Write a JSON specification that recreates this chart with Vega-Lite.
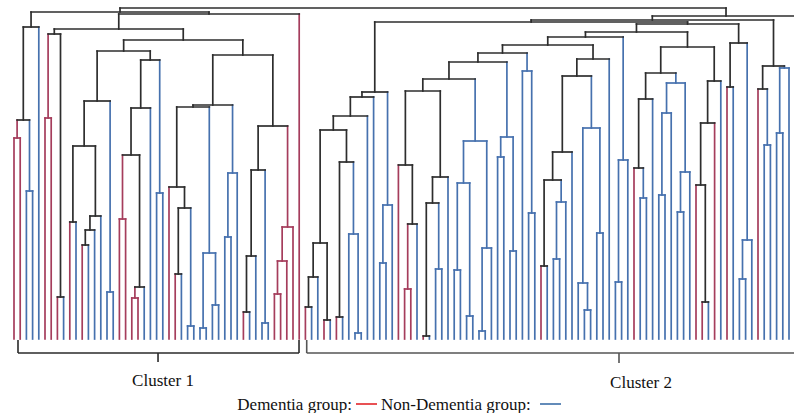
{
"$schema": "https://vega.github.io/schema/vega-lite/v6.json",
"width": 794, "height": 413,
"autosize": {"type": "fit", "contains": "padding"},
"padding": 0,
"background": "white",
"config": {"view": {"stroke": null}},
"datasets": {
"v": [
{"x":0,"y":1,"y2":202,"c":"R"},{"x":1,"y":1,"y2":202,"c":"R"},
{"x":2,"y":1,"y2":149,"c":"B"},{"x":3,"y":1,"y2":149,"c":"B"},
{"x":0.5,"y":202,"y2":220,"c":"R"},{"x":2.5,"y":149,"y2":220,"c":"B"},
{"x":1.5,"y":220,"y2":313,"c":"K"},{"x":4,"y":1,"y2":313,"c":"B"},
{"x":5,"y":1,"y2":222,"c":"R"},{"x":6,"y":1,"y2":222,"c":"R"},
{"x":7,"y":1,"y2":43,"c":"R"},{"x":8,"y":1,"y2":43,"c":"B"},
{"x":5.5,"y":222,"y2":306,"c":"R"},{"x":7.5,"y":43,"y2":306,"c":"K"},
{"x":9,"y":1,"y2":118,"c":"R"},{"x":10,"y":1,"y2":118,"c":"B"},
{"x":11,"y":1,"y2":95,"c":"R"},{"x":12,"y":1,"y2":95,"c":"B"},
{"x":11.5,"y":95,"y2":110,"c":"K"},{"x":13,"y":1,"y2":110,"c":"B"},
{"x":12.25,"y":110,"y2":124,"c":"K"},{"x":14,"y":1,"y2":124,"c":"B"},
{"x":9.5,"y":118,"y2":194,"c":"K"},{"x":13.125,"y":124,"y2":194,"c":"K"},
{"x":15,"y":1,"y2":48,"c":"B"},{"x":16,"y":1,"y2":48,"c":"B"},
{"x":11.3125,"y":194,"y2":239,"c":"K"},{"x":15.5,"y":48,"y2":239,"c":"B"},
{"x":17,"y":1,"y2":121,"c":"R"},{"x":18,"y":1,"y2":121,"c":"R"},
{"x":19,"y":1,"y2":42,"c":"R"},{"x":20,"y":1,"y2":42,"c":"R"},
{"x":19.5,"y":42,"y2":53,"c":"R"},{"x":21,"y":1,"y2":53,"c":"B"},
{"x":17.5,"y":121,"y2":185,"c":"R"},{"x":20.25,"y":53,"y2":185,"c":"K"},
{"x":18.875,"y":185,"y2":232,"c":"K"},{"x":22,"y":1,"y2":232,"c":"B"},
{"x":23,"y":1,"y2":147,"c":"B"},{"x":24,"y":1,"y2":147,"c":"B"},
{"x":20.4375,"y":232,"y2":280,"c":"K"},{"x":23.5,"y":147,"y2":280,"c":"B"},
{"x":13.40625,"y":239,"y2":289,"c":"K"},{"x":21.96875,"y":280,"y2":289,"c":"K"},
{"x":26,"y":1,"y2":66,"c":"R"},{"x":27,"y":1,"y2":66,"c":"B"},
{"x":28,"y":1,"y2":14,"c":"B"},{"x":29,"y":1,"y2":14,"c":"B"},
{"x":26.5,"y":66,"y2":132,"c":"K"},{"x":28.5,"y":14,"y2":132,"c":"B"},
{"x":25,"y":1,"y2":153,"c":"R"},{"x":27.5,"y":132,"y2":153,"c":"K"},
{"x":30,"y":1,"y2":12,"c":"B"},{"x":31,"y":1,"y2":12,"c":"B"},
{"x":32,"y":1,"y2":35,"c":"B"},{"x":33,"y":1,"y2":35,"c":"B"},
{"x":30.5,"y":12,"y2":87,"c":"B"},{"x":32.5,"y":35,"y2":87,"c":"B"},
{"x":26.25,"y":153,"y2":233,"c":"K"},{"x":31.5,"y":87,"y2":233,"c":"B"},
{"x":34,"y":1,"y2":103,"c":"B"},{"x":35,"y":1,"y2":103,"c":"B"},
{"x":34.5,"y":103,"y2":167,"c":"B"},{"x":36,"y":1,"y2":167,"c":"B"},
{"x":28.875,"y":233,"y2":235,"c":"K"},{"x":35.25,"y":167,"y2":235,"c":"B"},
{"x":37,"y":1,"y2":28,"c":"R"},{"x":38,"y":1,"y2":28,"c":"B"},
{"x":37.5,"y":28,"y2":84,"c":"K"},{"x":39,"y":1,"y2":84,"c":"B"},
{"x":40,"y":1,"y2":17,"c":"B"},{"x":41,"y":1,"y2":17,"c":"B"},
{"x":38.25,"y":84,"y2":170,"c":"K"},{"x":40.5,"y":17,"y2":170,"c":"B"},
{"x":42,"y":1,"y2":46,"c":"R"},{"x":43,"y":1,"y2":46,"c":"R"},
{"x":42.5,"y":46,"y2":79,"c":"R"},{"x":44,"y":1,"y2":79,"c":"R"},
{"x":43.25,"y":79,"y2":113,"c":"R"},{"x":45,"y":1,"y2":113,"c":"R"},
{"x":39.375,"y":170,"y2":214,"c":"K"},{"x":44.125,"y":113,"y2":214,"c":"R"},
{"x":32.0625,"y":235,"y2":285,"c":"K"},{"x":41.75,"y":214,"y2":285,"c":"K"},
{"x":17.6875,"y":289,"y2":300,"c":"K"},{"x":36.90625,"y":285,"y2":300,"c":"K"},
{"x":6.5,"y":306,"y2":311,"c":"K"},{"x":27.296875,"y":300,"y2":311,"c":"K"},
{"x":16.8984375,"y":311,"y2":326,"c":"K"},{"x":46,"y":1,"y2":326,"c":"R"},
{"x":2.75,"y":313,"y2":328,"c":"K"},{"x":31.44921875,"y":326,"y2":328,"c":"K"},
{"x":47,"y":1,"y2":33,"c":"R"},{"x":48,"y":1,"y2":33,"c":"B"},
{"x":47.5,"y":33,"y2":63,"c":"K"},{"x":49,"y":1,"y2":63,"c":"B"},
{"x":50,"y":1,"y2":20,"c":"R"},{"x":51,"y":1,"y2":20,"c":"B"},
{"x":48.25,"y":63,"y2":97,"c":"K"},{"x":50.5,"y":20,"y2":97,"c":"K"},
{"x":52,"y":1,"y2":23,"c":"R"},{"x":53,"y":1,"y2":23,"c":"B"},
{"x":55,"y":1,"y2":7,"c":"B"},{"x":56,"y":1,"y2":7,"c":"B"},
{"x":54,"y":1,"y2":106,"c":"B"},{"x":55.5,"y":7,"y2":106,"c":"B"},
{"x":52.5,"y":23,"y2":178,"c":"K"},{"x":54.75,"y":106,"y2":178,"c":"B"},
{"x":49.375,"y":97,"y2":210,"c":"K"},{"x":53.625,"y":178,"y2":210,"c":"K"},
{"x":51.5,"y":210,"y2":224,"c":"K"},{"x":57,"y":1,"y2":224,"c":"B"},
{"x":54.25,"y":224,"y2":243,"c":"K"},{"x":58,"y":1,"y2":243,"c":"B"},
{"x":59,"y":1,"y2":77,"c":"B"},{"x":60,"y":1,"y2":77,"c":"B"},
{"x":59.5,"y":77,"y2":135,"c":"B"},{"x":61,"y":1,"y2":135,"c":"B"},
{"x":56.125,"y":243,"y2":248,"c":"K"},{"x":60.25,"y":135,"y2":248,"c":"B"},
{"x":63,"y":1,"y2":51,"c":"R"},{"x":64,"y":1,"y2":51,"c":"R"},
{"x":63.5,"y":51,"y2":116,"c":"R"},{"x":65,"y":1,"y2":116,"c":"B"},
{"x":62,"y":1,"y2":175,"c":"R"},{"x":64.25,"y":116,"y2":175,"c":"K"},
{"x":66,"y":1,"y2":4,"c":"R"},{"x":67,"y":1,"y2":4,"c":"B"},
{"x":68,"y":1,"y2":71,"c":"B"},{"x":69,"y":1,"y2":71,"c":"B"},
{"x":66.5,"y":4,"y2":137,"c":"K"},{"x":68.5,"y":71,"y2":137,"c":"B"},
{"x":67.5,"y":137,"y2":163,"c":"K"},{"x":70,"y":1,"y2":163,"c":"B"},
{"x":63.125,"y":175,"y2":249,"c":"K"},{"x":68.75,"y":163,"y2":249,"c":"K"},
{"x":71,"y":1,"y2":70,"c":"B"},{"x":72,"y":1,"y2":70,"c":"B"},
{"x":73,"y":1,"y2":24,"c":"B"},{"x":74,"y":1,"y2":24,"c":"B"},
{"x":71.5,"y":70,"y2":157,"c":"B"},{"x":73.5,"y":24,"y2":157,"c":"B"},
{"x":75,"y":1,"y2":9,"c":"B"},{"x":76,"y":1,"y2":9,"c":"B"},
{"x":75.5,"y":9,"y2":92,"c":"B"},{"x":77,"y":1,"y2":92,"c":"B"},
{"x":72.5,"y":157,"y2":199,"c":"B"},{"x":76.25,"y":92,"y2":199,"c":"B"},
{"x":65.9375,"y":249,"y2":261,"c":"K"},{"x":74.375,"y":199,"y2":261,"c":"B"},
{"x":78,"y":1,"y2":183,"c":"B"},{"x":79,"y":1,"y2":183,"c":"B"},
{"x":80,"y":1,"y2":89,"c":"B"},{"x":81,"y":1,"y2":89,"c":"B"},
{"x":78.5,"y":183,"y2":203,"c":"B"},{"x":80.5,"y":89,"y2":203,"c":"B"},
{"x":70.15625,"y":261,"y2":278,"c":"K"},{"x":79.5,"y":203,"y2":278,"c":"B"},
{"x":83,"y":1,"y2":127,"c":"B"},{"x":84,"y":1,"y2":127,"c":"B"},
{"x":82,"y":1,"y2":269,"c":"B"},{"x":83.5,"y":127,"y2":269,"c":"B"},
{"x":74.828125,"y":278,"y2":287,"c":"K"},{"x":82.75,"y":269,"y2":287,"c":"B"},
{"x":85,"y":1,"y2":74,"c":"R"},{"x":86,"y":1,"y2":74,"c":"B"},
{"x":87,"y":1,"y2":81,"c":"B"},{"x":88,"y":1,"y2":81,"c":"B"},
{"x":87.5,"y":81,"y2":138,"c":"B"},{"x":89,"y":1,"y2":138,"c":"B"},
{"x":85.5,"y":74,"y2":160,"c":"K"},{"x":88.25,"y":138,"y2":160,"c":"B"},
{"x":86.875,"y":160,"y2":188,"c":"K"},{"x":90,"y":1,"y2":188,"c":"B"},
{"x":92,"y":1,"y2":30,"c":"B"},{"x":93,"y":1,"y2":30,"c":"B"},
{"x":91,"y":1,"y2":57,"c":"B"},{"x":92.5,"y":30,"y2":57,"c":"B"},
{"x":94,"y":1,"y2":107,"c":"B"},{"x":95,"y":1,"y2":107,"c":"B"},
{"x":91.75,"y":57,"y2":212,"c":"B"},{"x":94.5,"y":107,"y2":212,"c":"B"},
{"x":88.4375,"y":188,"y2":264,"c":"K"},{"x":93.125,"y":212,"y2":264,"c":"B"},
{"x":90.78125,"y":264,"y2":281,"c":"K"},{"x":96,"y":1,"y2":281,"c":"B"},
{"x":78.7890625,"y":287,"y2":295,"c":"K"},{"x":93.390625,"y":281,"y2":295,"c":"K"},
{"x":97,"y":1,"y2":58,"c":"B"},{"x":98,"y":1,"y2":58,"c":"B"},
{"x":97.5,"y":58,"y2":180,"c":"B"},{"x":99,"y":1,"y2":180,"c":"B"},
{"x":86.08984375,"y":295,"y2":303,"c":"K"},{"x":98.25,"y":180,"y2":303,"c":"B"},
{"x":101,"y":1,"y2":142,"c":"B"},{"x":102,"y":1,"y2":142,"c":"B"},
{"x":100,"y":1,"y2":172,"c":"R"},{"x":101.5,"y":142,"y2":172,"c":"B"},
{"x":100.75,"y":172,"y2":241,"c":"K"},{"x":103,"y":1,"y2":241,"c":"B"},
{"x":104,"y":1,"y2":145,"c":"B"},{"x":105,"y":1,"y2":145,"c":"B"},
{"x":104.5,"y":145,"y2":227,"c":"B"},{"x":106,"y":1,"y2":227,"c":"B"},
{"x":107,"y":1,"y2":128,"c":"B"},{"x":108,"y":1,"y2":128,"c":"B"},
{"x":107.5,"y":128,"y2":168,"c":"B"},{"x":109,"y":1,"y2":168,"c":"B"},
{"x":105.25,"y":227,"y2":257,"c":"B"},{"x":108.25,"y":168,"y2":257,"c":"B"},
{"x":101.875,"y":241,"y2":267,"c":"K"},{"x":106.75,"y":257,"y2":267,"c":"B"},
{"x":111,"y":1,"y2":38,"c":"R"},{"x":112,"y":1,"y2":38,"c":"B"},
{"x":110,"y":1,"y2":155,"c":"R"},{"x":111.5,"y":38,"y2":155,"c":"K"},
{"x":110.75,"y":155,"y2":217,"c":"K"},{"x":113,"y":1,"y2":217,"c":"R"},
{"x":111.875,"y":217,"y2":259,"c":"K"},{"x":114,"y":1,"y2":259,"c":"B"},
{"x":104.3125,"y":267,"y2":293,"c":"K"},{"x":112.9375,"y":259,"y2":293,"c":"K"},
{"x":92.169921875,"y":303,"y2":308,"c":"K"},{"x":108.625,"y":293,"y2":308,"c":"K"},
{"x":115,"y":1,"y2":253,"c":"R"},{"x":116,"y":1,"y2":253,"c":"B"},
{"x":117,"y":1,"y2":61,"c":"B"},{"x":118,"y":1,"y2":61,"c":"B"},
{"x":117.5,"y":61,"y2":100,"c":"B"},{"x":119,"y":1,"y2":100,"c":"B"},
{"x":115.5,"y":253,"y2":297,"c":"K"},{"x":118.25,"y":100,"y2":297,"c":"B"},
{"x":100.3974609375,"y":308,"y2":316,"c":"K"},{"x":116.875,"y":297,"y2":316,"c":"K"},
{"x":58.1875,"y":248,"y2":318,"c":"K"},{"x":108.63623046875,"y":316,"y2":318,"c":"K"},
{"x":121,"y":1,"y2":195,"c":"B"},{"x":122,"y":1,"y2":195,"c":"B"},
{"x":120,"y":1,"y2":251,"c":"R"},{"x":121.5,"y":195,"y2":251,"c":"B"},
{"x":123,"y":1,"y2":207,"c":"B"},{"x":124,"y":1,"y2":207,"c":"B"},
{"x":123.5,"y":207,"y2":272,"c":"B"},{"x":125,"y":1,"y2":272,"c":"B"},
{"x":120.75,"y":251,"y2":274,"c":"K"},{"x":124.25,"y":272,"y2":274,"c":"B"},
{"x":83.411865234375,"y":318,"y2":320,"c":"K"},{"x":122.5,"y":274,"y2":320,"c":"K"},
{"x":102.9559326171875,"y":320,"y2":324,"c":"K"},
{"x":17.099609375,"y":328,"y2":332,"c":"K"},{"x":114.84,"y":324,"y2":332,"c":"K"}
],
"h": [
{"x":0,"x2":1,"y":202,"c":"R"},{"x":2,"x2":3,"y":149,"c":"B"},{"x":0.5,"x2":2.5,"y":220,"c":"K"},{"x":1.5,"x2":4,"y":313,"c":"K"},
{"x":5,"x2":6,"y":222,"c":"R"},{"x":7,"x2":8,"y":43,"c":"K"},{"x":5.5,"x2":7.5,"y":306,"c":"K"},
{"x":9,"x2":10,"y":118,"c":"K"},{"x":11,"x2":12,"y":95,"c":"K"},{"x":11.5,"x2":13,"y":110,"c":"K"},{"x":12.25,"x2":14,"y":124,"c":"K"},
{"x":9.5,"x2":13.125,"y":194,"c":"K"},{"x":15,"x2":16,"y":48,"c":"B"},{"x":11.3125,"x2":15.5,"y":239,"c":"K"},
{"x":17,"x2":18,"y":121,"c":"R"},{"x":19,"x2":20,"y":42,"c":"R"},{"x":19.5,"x2":21,"y":53,"c":"K"},{"x":17.5,"x2":20.25,"y":185,"c":"K"},
{"x":18.875,"x2":22,"y":232,"c":"K"},{"x":23,"x2":24,"y":147,"c":"B"},{"x":20.4375,"x2":23.5,"y":280,"c":"K"},{"x":13.40625,"x2":21.96875,"y":289,"c":"K"},
{"x":26,"x2":27,"y":66,"c":"K"},{"x":28,"x2":29,"y":14,"c":"B"},{"x":26.5,"x2":28.5,"y":132,"c":"K"},{"x":25,"x2":27.5,"y":153,"c":"K"},
{"x":30,"x2":31,"y":12,"c":"B"},{"x":32,"x2":33,"y":35,"c":"B"},{"x":30.5,"x2":32.5,"y":87,"c":"B"},{"x":26.25,"x2":31.5,"y":233,"c":"K"},
{"x":34,"x2":35,"y":103,"c":"B"},{"x":34.5,"x2":36,"y":167,"c":"B"},{"x":28.875,"x2":35.25,"y":235,"c":"K"},
{"x":37,"x2":38,"y":28,"c":"K"},{"x":37.5,"x2":39,"y":84,"c":"K"},{"x":40,"x2":41,"y":17,"c":"B"},{"x":38.25,"x2":40.5,"y":170,"c":"K"},
{"x":42,"x2":43,"y":46,"c":"R"},{"x":42.5,"x2":44,"y":79,"c":"R"},{"x":43.25,"x2":45,"y":113,"c":"R"},{"x":39.375,"x2":44.125,"y":214,"c":"K"},
{"x":32.0625,"x2":41.75,"y":285,"c":"K"},{"x":17.6875,"x2":36.90625,"y":300,"c":"K"},{"x":6.5,"x2":27.296875,"y":311,"c":"K"},
{"x":16.8984375,"x2":46,"y":326,"c":"K"},{"x":2.75,"x2":31.44921875,"y":328,"c":"K"},
{"x":47,"x2":48,"y":33,"c":"K"},{"x":47.5,"x2":49,"y":63,"c":"K"},{"x":50,"x2":51,"y":20,"c":"K"},{"x":48.25,"x2":50.5,"y":97,"c":"K"},
{"x":52,"x2":53,"y":23,"c":"K"},{"x":55,"x2":56,"y":7,"c":"B"},{"x":54,"x2":55.5,"y":106,"c":"B"},{"x":52.5,"x2":54.75,"y":178,"c":"K"},
{"x":49.375,"x2":53.625,"y":210,"c":"K"},{"x":51.5,"x2":57,"y":224,"c":"K"},{"x":54.25,"x2":58,"y":243,"c":"K"},
{"x":59,"x2":60,"y":77,"c":"B"},{"x":59.5,"x2":61,"y":135,"c":"B"},{"x":56.125,"x2":60.25,"y":248,"c":"K"},
{"x":63,"x2":64,"y":51,"c":"R"},{"x":63.5,"x2":65,"y":116,"c":"K"},{"x":62,"x2":64.25,"y":175,"c":"K"},
{"x":66,"x2":67,"y":4,"c":"K"},{"x":68,"x2":69,"y":71,"c":"B"},{"x":66.5,"x2":68.5,"y":137,"c":"K"},{"x":67.5,"x2":70,"y":163,"c":"K"},
{"x":63.125,"x2":68.75,"y":249,"c":"K"},
{"x":71,"x2":72,"y":70,"c":"B"},{"x":73,"x2":74,"y":24,"c":"B"},{"x":71.5,"x2":73.5,"y":157,"c":"B"},{"x":75,"x2":76,"y":9,"c":"B"},
{"x":75.5,"x2":77,"y":92,"c":"B"},{"x":72.5,"x2":76.25,"y":199,"c":"B"},{"x":65.9375,"x2":74.375,"y":261,"c":"K"},
{"x":78,"x2":79,"y":183,"c":"B"},{"x":80,"x2":81,"y":89,"c":"B"},{"x":78.5,"x2":80.5,"y":203,"c":"B"},{"x":70.15625,"x2":79.5,"y":278,"c":"K"},
{"x":83,"x2":84,"y":127,"c":"B"},{"x":82,"x2":83.5,"y":269,"c":"B"},{"x":74.828125,"x2":82.75,"y":287,"c":"K"},
{"x":85,"x2":86,"y":74,"c":"K"},{"x":87,"x2":88,"y":81,"c":"B"},{"x":87.5,"x2":89,"y":138,"c":"B"},{"x":85.5,"x2":88.25,"y":160,"c":"K"},
{"x":86.875,"x2":90,"y":188,"c":"K"},{"x":92,"x2":93,"y":30,"c":"B"},{"x":91,"x2":92.5,"y":57,"c":"B"},{"x":94,"x2":95,"y":107,"c":"B"},
{"x":91.75,"x2":94.5,"y":212,"c":"B"},{"x":88.4375,"x2":93.125,"y":264,"c":"K"},{"x":90.78125,"x2":96,"y":281,"c":"K"},
{"x":78.7890625,"x2":93.390625,"y":295,"c":"K"},{"x":97,"x2":98,"y":58,"c":"B"},{"x":97.5,"x2":99,"y":180,"c":"B"},
{"x":86.08984375,"x2":98.25,"y":303,"c":"K"},
{"x":101,"x2":102,"y":142,"c":"B"},{"x":100,"x2":101.5,"y":172,"c":"K"},{"x":100.75,"x2":103,"y":241,"c":"K"},
{"x":104,"x2":105,"y":145,"c":"B"},{"x":104.5,"x2":106,"y":227,"c":"B"},{"x":107,"x2":108,"y":128,"c":"B"},{"x":107.5,"x2":109,"y":168,"c":"B"},
{"x":105.25,"x2":108.25,"y":257,"c":"B"},{"x":101.875,"x2":106.75,"y":267,"c":"K"},
{"x":111,"x2":112,"y":38,"c":"K"},{"x":110,"x2":111.5,"y":155,"c":"K"},{"x":110.75,"x2":113,"y":217,"c":"K"},{"x":111.875,"x2":114,"y":259,"c":"K"},
{"x":104.3125,"x2":112.9375,"y":293,"c":"K"},{"x":92.169921875,"x2":108.625,"y":308,"c":"K"},
{"x":115,"x2":116,"y":253,"c":"K"},{"x":117,"x2":118,"y":61,"c":"B"},{"x":117.5,"x2":119,"y":100,"c":"B"},{"x":115.5,"x2":118.25,"y":297,"c":"K"},
{"x":100.3974609375,"x2":116.875,"y":316,"c":"K"},{"x":58.1875,"x2":108.63623046875,"y":318,"c":"K"},
{"x":121,"x2":122,"y":195,"c":"B"},{"x":120,"x2":121.5,"y":251,"c":"K"},{"x":123,"x2":124,"y":207,"c":"B"},{"x":123.5,"x2":125,"y":272,"c":"B"},
{"x":120.75,"x2":124.25,"y":274,"c":"K"},{"x":83.411865234375,"x2":122.5,"y":320,"c":"K"},
{"x":102.9559326171875,"x2":130,"y":324,"c":"K"},{"x":17.099609375,"x2":114.84,"y":332,"c":"K"}
],
"br": [
{"x":0.645,"x2":0.645,"y":0,"y2":-13,"c":"G1"},{"x":0.645,"x2":45.97,"y":-13,"y2":-13,"c":"G1"},
{"x":45.97,"x2":45.97,"y":0,"y2":-13,"c":"G1"},{"x":23.23,"x2":23.23,"y":-13,"y2":-22,"c":"G1"},
{"x":47.21,"x2":47.21,"y":0,"y2":-13,"c":"G2"},{"x":47.21,"x2":130,"y":-13,"y2":-13,"c":"G2"},
{"x":97.58,"x2":97.58,"y":-13,"y2":-23,"c":"G2"},
{"x":55.16,"x2":58.55,"y":-64,"y2":-64,"c":"LR"},{"x":84.84,"x2":88.23,"y":-64,"y2":-64,"c":"LB"}
],
"lab": [
{"t":"Cluster 1","x":24.03,"y":-41},{"t":"Cluster 2","x":101.13,"y":-43}
],
"ltr": [{"t":"Dementia group:","x":54.52,"y":-65}],
"ltl": [{"t":"Non-Dementia group:","x":59.19,"y":-65}]
},
"layer": [
{"data":{"name":"v"},"mark":{"type":"rule","strokeWidth":1.7,"strokeCap":"square","clip":true},
"encoding":{
"x":{"field":"x","type":"quantitative","scale":{"domain":[-2.258,125.806],"nice":false,"zero":false},"axis":null},
"y":{"field":"y","type":"quantitative","scale":{"domain":[-73,340],"nice":false,"zero":false},"axis":null},
"y2":{"field":"y2"},
"color":{"field":"c","type":"nominal","scale":{"domain":["R","B","K","G1","G2","LR","LB"],"range":["#a53d5c","#4671ae","#2d2d2d","#2a2a2a","#555555","#e3262a","#3d6ea8"]},"legend":null}}},
{"data":{"name":"h"},"mark":{"type":"rule","strokeWidth":1.7,"strokeCap":"square","clip":true},
"encoding":{
"x":{"field":"x","type":"quantitative"},
"x2":{"field":"x2"},
"y":{"field":"y","type":"quantitative"},
"color":{"field":"c","type":"nominal","legend":null}}},
{"data":{"name":"br"},"mark":{"type":"rule","strokeWidth":1.6,"clip":true},
"encoding":{
"x":{"field":"x","type":"quantitative"},
"x2":{"field":"x2"},
"y":{"field":"y","type":"quantitative"},
"y2":{"field":"y2"},
"color":{"field":"c","type":"nominal","legend":null},
"strokeWidth":{"condition":{"test":"datum.c === 'LR' || datum.c === 'LB'","value":2.8},"value":1.6}}},
{"data":{"name":"lab"},"mark":{"type":"text","font":"Liberation Serif","fontSize":17,"align":"center","baseline":"middle","color":"#111111"},
"encoding":{"x":{"field":"x","type":"quantitative"},"y":{"field":"y","type":"quantitative"},"text":{"field":"t"}}},
{"data":{"name":"ltr"},"mark":{"type":"text","font":"Liberation Serif","fontSize":17,"align":"right","baseline":"middle","color":"#111111"},
"encoding":{"x":{"field":"x","type":"quantitative"},"y":{"field":"y","type":"quantitative"},"text":{"field":"t"}}},
{"data":{"name":"ltl"},"mark":{"type":"text","font":"Liberation Serif","fontSize":17,"align":"left","baseline":"middle","color":"#111111"},
"encoding":{"x":{"field":"x","type":"quantitative"},"y":{"field":"y","type":"quantitative"},"text":{"field":"t"}}}
]
}
